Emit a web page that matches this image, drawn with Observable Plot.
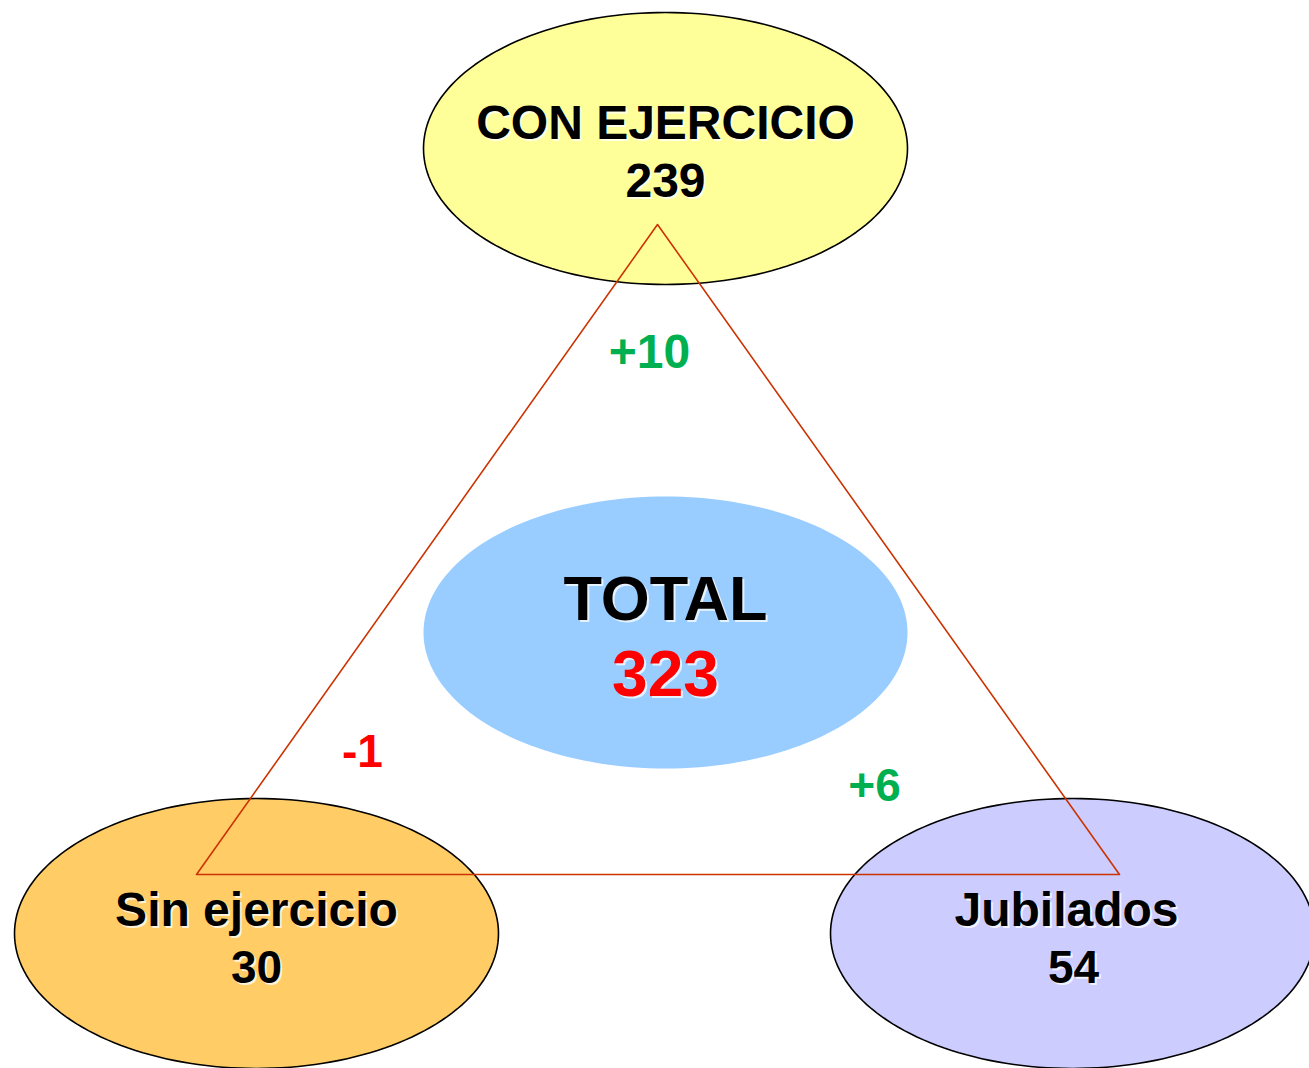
<!DOCTYPE html>
<html>
<head>
<meta charset="utf-8">
<script src="https://cdn.jsdelivr.net/npm/d3@7"></script>
<script src="https://cdn.jsdelivr.net/npm/@observablehq/plot@0.6"></script>
<style>
  html, body { margin: 0; padding: 0; background: #ffffff; }
  #chart svg { display: block; }
</style>
</head>
<body>
<div id="chart"></div>
<script>
// ---- data ----
const groups = ["CON EJERCICIO", "TOTAL", "Sin ejercicio", "Jubilados"];
const counts = [239, 323, 30, 54];
const changes = ["+10", "-1", "+6"];

// ---- layout (diagram coordinates, same units as the x/y scales) ----
const W = 1309, H = 1068;
const nodeCx = [665, 665, 256, 1072];
const nodeCy = [148, 632, 933, 933];
const nodeRx = [242, 242, 242, 242];
const nodeRy = [136, 136, 135, 135];
const nodeFill = ["#FFFF99", "#99CCFF", "#FFCC66", "#CCCCFF"];
const nodeStroke = ["#000000", "none", "#000000", "#000000"];
const labelX = [665, 665, 256, 1066];
const numX = [665, 665, 256, 1073];
const labelY = [138, 619, 925, 925];
const numY = [196, 695, 982, 982];
const labelSize = [48, 63, 48, 48];
const numSize = [48, 64, 46, 46];
const numColor = ["#000000", "#FF0000", "#000000", "#000000"];
const triX = [657, 1119, 196];
const triY = [224, 874, 874];
const changeX = [649, 362, 874];
const changeY = [367, 766, 800];
const changeSize = [48, 46, 46];
const changeColor = ["#00B050", "#FF0000", "#00B050"];

// ellipse outlines from centre + radii
function ellipse(i) {
  const pts = [];
  for (let k = 0; k < 180; k++) {
    const t = (k / 180) * 2 * Math.PI;
    pts.push({id: i, x: nodeCx[i] + nodeRx[i] * Math.cos(t), y: nodeCy[i] + nodeRy[i] * Math.sin(t)});
  }
  return pts;
}

const nodes = groups.map((g, i) => ({
  i, name: g, count: counts[i],
  lx: labelX[i], ly: labelY[i], nx: numX[i], ny: numY[i],
  ls: labelSize[i], ns: numSize[i], nc: numColor[i]
}));
const tri = triX.map((x, i) => ({x, y: triY[i]}));
const deltas = changes.map((c, i) => ({c, x: changeX[i], y: changeY[i], s: changeSize[i], color: changeColor[i]}));

const font = "'Liberation Sans', Arial, Helvetica, sans-serif";
const marks = [];

for (const i of [0, 1, 2, 3]) {
  marks.push(Plot.line(ellipse(i), {
    x: "x", y: "y", curve: "linear-closed",
    fill: nodeFill[i], stroke: nodeStroke[i], strokeWidth: 1.6
  }));
}
marks.push(Plot.line(tri, {x: "x", y: "y", curve: "linear-closed", stroke: "#CC3300", strokeWidth: 1.6, fill: "none"}));

// text with subtle shadow
function textPair(data, opts, color) {
  marks.push(Plot.text(data, {...opts, fill: "#FFFFFF", fillOpacity: 0.75, dx: 2, dy: 2}));
  marks.push(Plot.text(data, {...opts, fill: color}));
}
for (const n of nodes) {
  textPair([n], {x: "lx", y: "ly", text: "name", fontSize: n.ls, fontWeight: "bold", textAnchor: "middle", lineAnchor: "bottom", fontFamily: font}, "#000000");
  textPair([n], {x: "nx", y: "ny", text: d => String(d.count), fontSize: n.ns, fontWeight: "bold", textAnchor: "middle", lineAnchor: "bottom", fontFamily: font}, n.nc);
}
for (const d of deltas) {
  marks.push(Plot.text([d], {x: "x", y: "y", text: "c", fill: d.color, fontSize: d.s, fontWeight: "bold", textAnchor: "middle", lineAnchor: "bottom", fontFamily: font}));
}

const chart = Plot.plot({
  width: W, height: H,
  margin: 0,
  x: {domain: [0, W], axis: null},
  y: {domain: [H, 0], axis: null},
  style: {background: "#ffffff", fontFamily: font},
  marks
});
document.getElementById("chart").appendChild(chart);
</script>
</body>
</html>
